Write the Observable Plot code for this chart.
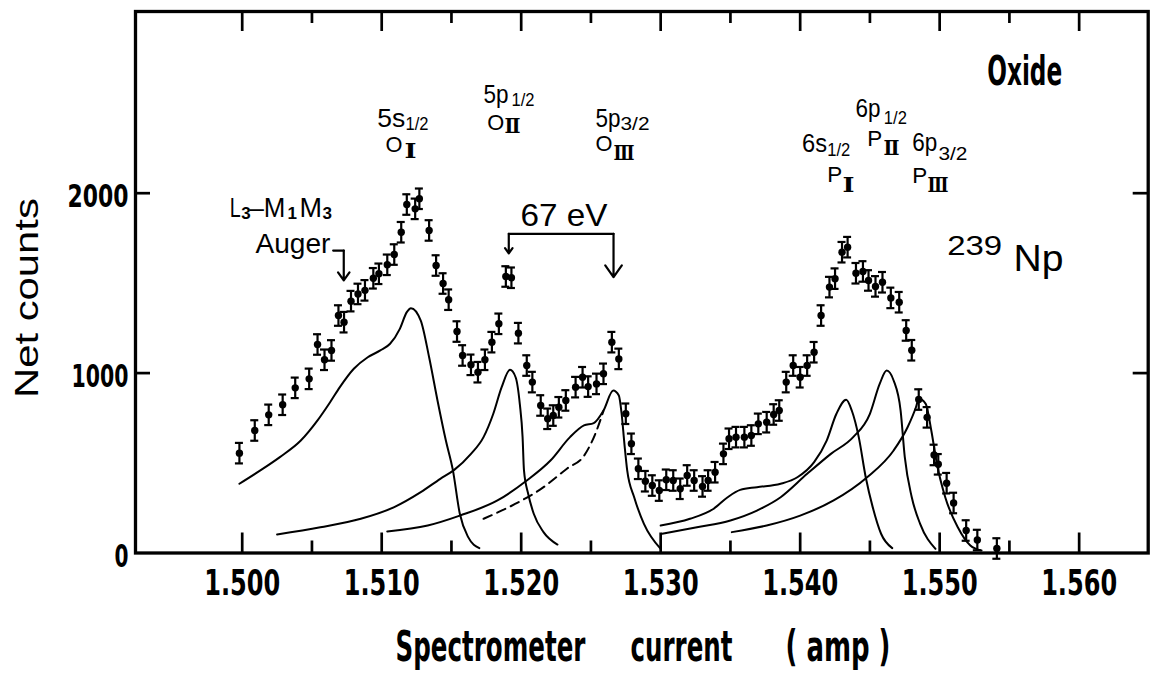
<!DOCTYPE html>
<html><head><meta charset="utf-8">
<script src="https://cdn.jsdelivr.net/npm/d3@7"></script>
<script src="https://cdn.jsdelivr.net/npm/@observablehq/plot@0.6"></script>
<style>body{margin:0;background:#fff}#chart svg{display:block}</style>
</head><body><div id="chart"></div>
<script>
// ---- measured data (spectrometer current in amp, net counts) ----
const currents = [1.4998,1.5009,1.5019,1.5029,1.5038,1.5048,1.5054,1.5059,1.5064,1.5069,1.5073,1.5078,1.5083,1.5088,1.5094,1.5098,1.5104,1.5109,1.5114,1.5118,1.5124,1.5127,1.5134,1.5139,1.5144,1.5148,1.5154,1.5158,1.5164,1.5169,1.5174,1.5179,1.5184,1.5189,1.5193,1.5198,1.5204,1.5208,1.5214,1.5219,1.5223,1.5227,1.5232,1.5239,1.5244,1.5248,1.5254,1.5259,1.5265,1.5270,1.5275,1.5279,1.5284,1.5289,1.5294,1.5299,1.5304,1.5309,1.5314,1.5319,1.5324,1.5330,1.5334,1.5339,1.5345,1.5349,1.5354,1.5360,1.5365,1.5370,1.5376,1.5381,1.5385,1.5390,1.5395,1.5400,1.5405,1.5410,1.5415,1.5421,1.5425,1.5430,1.5434,1.5440,1.5445,1.5449,1.5454,1.5459,1.5465,1.5471,1.5476,1.5480,1.5485,1.5491,1.5496,1.5499,1.5505,1.5510,1.5519,1.5527,1.5541];
const counts = [555,681,768,824,918,968,1159,1074,1126,1320,1283,1400,1440,1460,1527,1552,1602,1659,1783,1937,1913,1969,1793,1598,1498,1408,1231,1098,1046,1005,1074,1172,1274,1537,1530,1222,1042,950,820,746,764,810,848,922,977,925,940,996,1172,1079,774,607,468,399,375,347,407,403,357,431,403,370,403,449,551,635,644,644,653,718,727,770,792,950,1042,977,1042,1116,1320,1478,1525,1672,1700,1555,1565,1515,1482,1505,1418,1394,1237,1127,853,754,545,493,388,278,125,72,25];
const countError = 57;

// ---- fitted line shapes [current, counts] ----
const curve5s = [[1.4998,385],[1.5013,459],[1.5027,533],[1.5042,625],[1.5054,737],[1.5063,838],[1.5070,922],[1.5080,1024],[1.5090,1088],[1.5099,1126],[1.5106,1163],[1.5113,1246],[1.5118,1339],[1.5121,1361],[1.5128,1292],[1.5134,1088],[1.5140,848],[1.5146,625],[1.5151,462],[1.5156,218],[1.5162,88],[1.5170,27]];
const curve5p1 = [[1.5025,103],[1.5056,143],[1.5085,190],[1.5109,255],[1.5128,338],[1.5142,412],[1.5152,462],[1.5164,551],[1.5173,644],[1.5180,774],[1.5186,922],[1.5192,1018],[1.5196,977],[1.5199,829],[1.5201,644],[1.5202,459],[1.5205,329],[1.5209,218],[1.5216,116],[1.5226,47]];
const curve5p3 = [[1.5104,120],[1.5133,153],[1.5156,208],[1.5183,292],[1.5204,403],[1.5221,514],[1.5235,644],[1.5245,709],[1.5252,722],[1.5259,792],[1.5266,903],[1.5270,875],[1.5272,774],[1.5274,607],[1.5276,459],[1.5281,310],[1.5288,162],[1.5300,23]];
const curve5p3Dashed = [[1.5173,190],[1.5195,270],[1.5214,355],[1.5233,470],[1.5245,540],[1.5253,660],[1.5259,790]];
const curve6s = [[1.5300,153],[1.5321,190],[1.5338,246],[1.5348,310],[1.5357,351],[1.5369,366],[1.5386,385],[1.5398,421],[1.5410,505],[1.5419,625],[1.5426,774],[1.5433,852],[1.5437,792],[1.5442,644],[1.5447,421],[1.5452,255],[1.5458,107],[1.5466,27]];
const curve6p1 = [[1.5301,107],[1.5326,143],[1.5350,181],[1.5369,236],[1.5386,310],[1.5405,440],[1.5422,551],[1.5438,644],[1.5450,774],[1.5457,940],[1.5462,1014],[1.5467,959],[1.5472,792],[1.5475,533],[1.5480,310],[1.5486,162],[1.5497,23]];
const curve6p3 = [[1.5351,116],[1.5376,153],[1.5400,208],[1.5424,292],[1.5448,421],[1.5467,570],[1.5477,699],[1.5483,810],[1.5485,857],[1.5490,829],[1.5494,681],[1.5498,496],[1.5504,310],[1.5513,143],[1.5522,42],[1.5530,14]];

// ---- axes ----
const xDomain = [1.49235, 1.56495];
const yDomain = [0, 3010];
const xTicksMajor = [1.50,1.51,1.52,1.53,1.54,1.55,1.56];
const xTicksMinor = [1.505,1.515,1.525,1.535,1.545,1.555];
const yTicks = [1000,2000];
const yTickLabels = [0,1000,2000];

// ---- annotations ----
const levelMain = [
  {x:1.50968,y:2367,t:"5s"},{x:1.51730,y:2504,t:"5p"},{x:1.52533,y:2367,t:"5p"},
  {x:1.54014,y:2228,t:"6s"},{x:1.54396,y:2421,t:"6p"},{x:1.54803,y:2237,t:"6p"}];
const levelFrac = [
  {x:1.51171,y:2349,t:"1/2"},{x:1.51931,y:2485,t:"1/2"},{x:1.52712,y:2349,t:"3/2"},
  {x:1.54194,y:2204,t:"1/2"},{x:1.54600,y:2387,t:"1/2"},{x:1.54991,y:2182,t:"3/2"}];
const shellLetter = [
  {x:1.51027,y:2228,t:"O"},{x:1.51756,y:2354,t:"O"},{x:1.52533,y:2237,t:"O"},
  {x:1.54194,y:2061,t:"P"},{x:1.54480,y:2265,t:"P"},{x:1.54803,y:2054,t:"P"}];
const shellNumeral = [
  {x:1.51163,y:2193,t:"Ⅰ"},{x:1.51880,y:2337,t:"Ⅱ"},{x:1.52662,y:2182,t:"Ⅲ"},
  {x:1.54303,y:2009,t:"Ⅰ"},{x:1.54597,y:2210,t:"Ⅱ"},{x:1.54913,y:2006,t:"Ⅲ"}];
const augerMain = [{x:1.49911,y:1867,t:"L"},{x:1.50052,y:1867,t:"–M"},{x:1.50411,y:1867,t:"M"},{x:1.50095,y:1665,t:"Auger"}];
const augerSub = [{x:1.49993,y:1854,t:"3"},{x:1.50325,y:1854,t:"1"},{x:1.50576,y:1854,t:"3"}];
const xTitleParts = [{x:1.51099,t:"Spectrometer"},{x:1.52784,t:"current"},{x:1.53895,t:"( amp )"}];

const condensed = "'Liberation Sans Narrow','DejaVu Sans Condensed','Arial Narrow',sans-serif";
const sans = "'Liberation Sans',Helvetica,Arial,sans-serif";
const serif = "'DejaVu Serif','Liberation Serif',serif";

const W = 1151, H = 681;
const mTop = 11, mBottom = 128.5, mLeft = 135, mRight = 3.3;
const countsPerPx = (yDomain[1]-yDomain[0]) / (H - mTop - mBottom);
const ampPerPx = (xDomain[1]-xDomain[0]) / (W - mLeft - mRight);
const majorLen = 20 * countsPerPx, minorLen = 12 * countsPerPx, yTickLen = 15 * ampPerPx;
const capHalf = 4 * ampPerPx;

const points = currents.map((x,i)=>({x, y: counts[i]}));
const curves = [curve5s, curve5p1, curve5p3, curve6s, curve6p1, curve6p3];
const txt = (data, o) => Plot.text(data, {x:"x", y:"y", text:"t", textAnchor:"start", lineAnchor:"bottom", fill:"black", ...o});

const marks = [
  // ticks (inward, top and bottom, left and right)
  Plot.ruleX(xTicksMajor, {x:d=>d, y1:yDomain[0], y2:yDomain[0]+majorLen, strokeWidth:2.7}),
  Plot.ruleX(xTicksMinor, {x:d=>d, y1:yDomain[0], y2:yDomain[0]+minorLen, strokeWidth:2.7}),
  Plot.ruleX(xTicksMajor, {x:d=>d, y1:yDomain[1], y2:yDomain[1]-majorLen, strokeWidth:2.7}),
  Plot.ruleX(xTicksMinor, {x:d=>d, y1:yDomain[1], y2:yDomain[1]-minorLen, strokeWidth:2.7}),
  Plot.ruleY(yTicks, {y:d=>d, x1:xDomain[0], x2:xDomain[0]+yTickLen, strokeWidth:2.7}),
  Plot.ruleY(yTicks, {y:d=>d, x1:xDomain[1], x2:xDomain[1]-yTickLen, strokeWidth:2.7}),
  // tick labels
  Plot.text(xTicksMajor, {x:d=>d, text:d=>d3.format(".3f")(d), frameAnchor:"bottom", dy:41.5, lineAnchor:"bottom",
    fontFamily:condensed, fontWeight:"bold", fontSize:36, fill:"black"}),
  Plot.text(yTickLabels, {y:d=>d, text:d=>String(d), frameAnchor:"left", dx:-7, dy:14, textAnchor:"end", lineAnchor:"bottom",
    fontFamily:condensed, fontWeight:"bold", fontSize:32, fill:"black"}),
  // axis titles
  Plot.text(xTitleParts, {x:"x", text:"t", frameAnchor:"bottom", dy:107.5, textAnchor:"start", lineAnchor:"bottom",
    fontFamily:condensed, fontWeight:"bold", fontSize:42, fill:"black"}),
  Plot.text([{y:1417,t:"Net counts"}], {y:"y", text:"t", frameAnchor:"left", dx:-98, rotate:-90, textAnchor:"middle", lineAnchor:"bottom",
    fontFamily:sans, fontSize:33, fill:"black"}),
  // fitted curves
  ...curves.map(c => Plot.line(c, {curve:"monotone-x", stroke:"black", strokeWidth:2})),
  Plot.line(curve5p3Dashed, {curve:"monotone-x", stroke:"black", strokeWidth:2, strokeDasharray:"9,6"}),
  // data with error bars
  Plot.ruleX(points, {x:"x", y1:d=>d.y-countError, y2:d=>d.y+countError, stroke:"black", strokeWidth:2.2}),
  Plot.ruleY(points, {y:d=>d.y+countError, x1:d=>d.x-capHalf, x2:d=>d.x+capHalf, stroke:"black", strokeWidth:2.2}),
  Plot.ruleY(points, {y:d=>d.y-countError, x1:d=>d.x-capHalf, x2:d=>d.x+capHalf, stroke:"black", strokeWidth:2.2}),
  Plot.dot(points, {x:"x", y:"y", r:3.7, fill:"black", stroke:"none"}),
  // level labels
  txt(levelMain, {fontFamily:sans, fontSize:26}),
  txt(levelFrac, {fontFamily:sans, fontSize:18}),
  txt(shellLetter, {fontFamily:sans, fontSize:22}),
  txt(shellNumeral, {fontFamily:serif, fontWeight:"bold", fontSize:20}),
  // Auger label and hook arrow
  txt(augerMain, {fontFamily:sans, fontSize:27}),
  txt(augerSub, {fontFamily:sans, fontWeight:"bold", fontSize:17}),
  Plot.line([[1.50652,1681],[1.50728,1681]], {stroke:"black", strokeWidth:2.2}),
  Plot.arrow([0], {x1:1.50728, y1:1681, x2:1.50728, y2:1515, headLength:11, headAngle:70, strokeWidth:2.2, stroke:"black"}),
  // 67 eV bracket
  txt([{x:1.51995,y:1820,t:"67 eV"}], {fontFamily:sans, fontSize:32}),
  Plot.line([[1.51911,1774],[1.52662,1774]], {stroke:"black", strokeWidth:2.2}),
  Plot.arrow([0], {x1:1.51911, y1:1774, x2:1.51911, y2:1665, headLength:11, headAngle:70, strokeWidth:2.2, stroke:"black"}),
  Plot.arrow([0], {x1:1.52662, y1:1774, x2:1.52662, y2:1533, headLength:11, headAngle:70, strokeWidth:2.2, stroke:"black"}),
  // sample labels
  txt([{x:1.55341,y:2599,t:"Oxide"}], {fontFamily:condensed, fontWeight:"bold", fontSize:40}),
  txt([{x:1.55054,y:1659,t:"239"}], {fontFamily:sans, fontSize:27}),
  txt([{x:1.55529,y:1565,t:"Np"}], {fontFamily:sans, fontSize:36}),
  Plot.frame({stroke:"black", strokeWidth:3.3})
];

const chart = Plot.plot({
  width: W, height: H,
  marginTop: mTop, marginBottom: mBottom, marginLeft: mLeft, marginRight: mRight,
  x: {domain: xDomain, axis: null},
  y: {domain: yDomain, axis: null},
  style: {background: "white", color: "black"},
  marks
});
document.getElementById("chart").appendChild(chart);

// squeeze/stretch lettering horizontally to the widths seen in the figure
const fitWidths = {"Oxide":75,"Np":50,"239":55,"67 eV":87,"Spectrometer":190,"current":102,"( amp )":105,
  "Net counts":200,"2000":61,"1000":57,"0":14,"Auger":75,"L":11,"–M":36,
  "5s":28,"5p":25,"6s":25,"6p":25,"1/2":23,"3/2":29,"O":17,"P":15,"Ⅰ":12,"Ⅱ":16,"Ⅲ":21};
chart.querySelectorAll("text").forEach(el => {
  const s = el.textContent;
  let w = fitWidths[s];
  if (/^1\.5\d0$/.test(s)) w = 76;
  if (!w) return;
  const w0 = el.getComputedTextLength();
  if (!w0) return;
  const sx = w / w0;
  const x0 = parseFloat(el.getAttribute("x")) || 0;
  const t = el.getAttribute("transform") || "";
  el.setAttribute("transform", `${t} translate(${x0},0) scale(${sx},1) translate(${-x0},0)`);
});
</script>
</body></html>
